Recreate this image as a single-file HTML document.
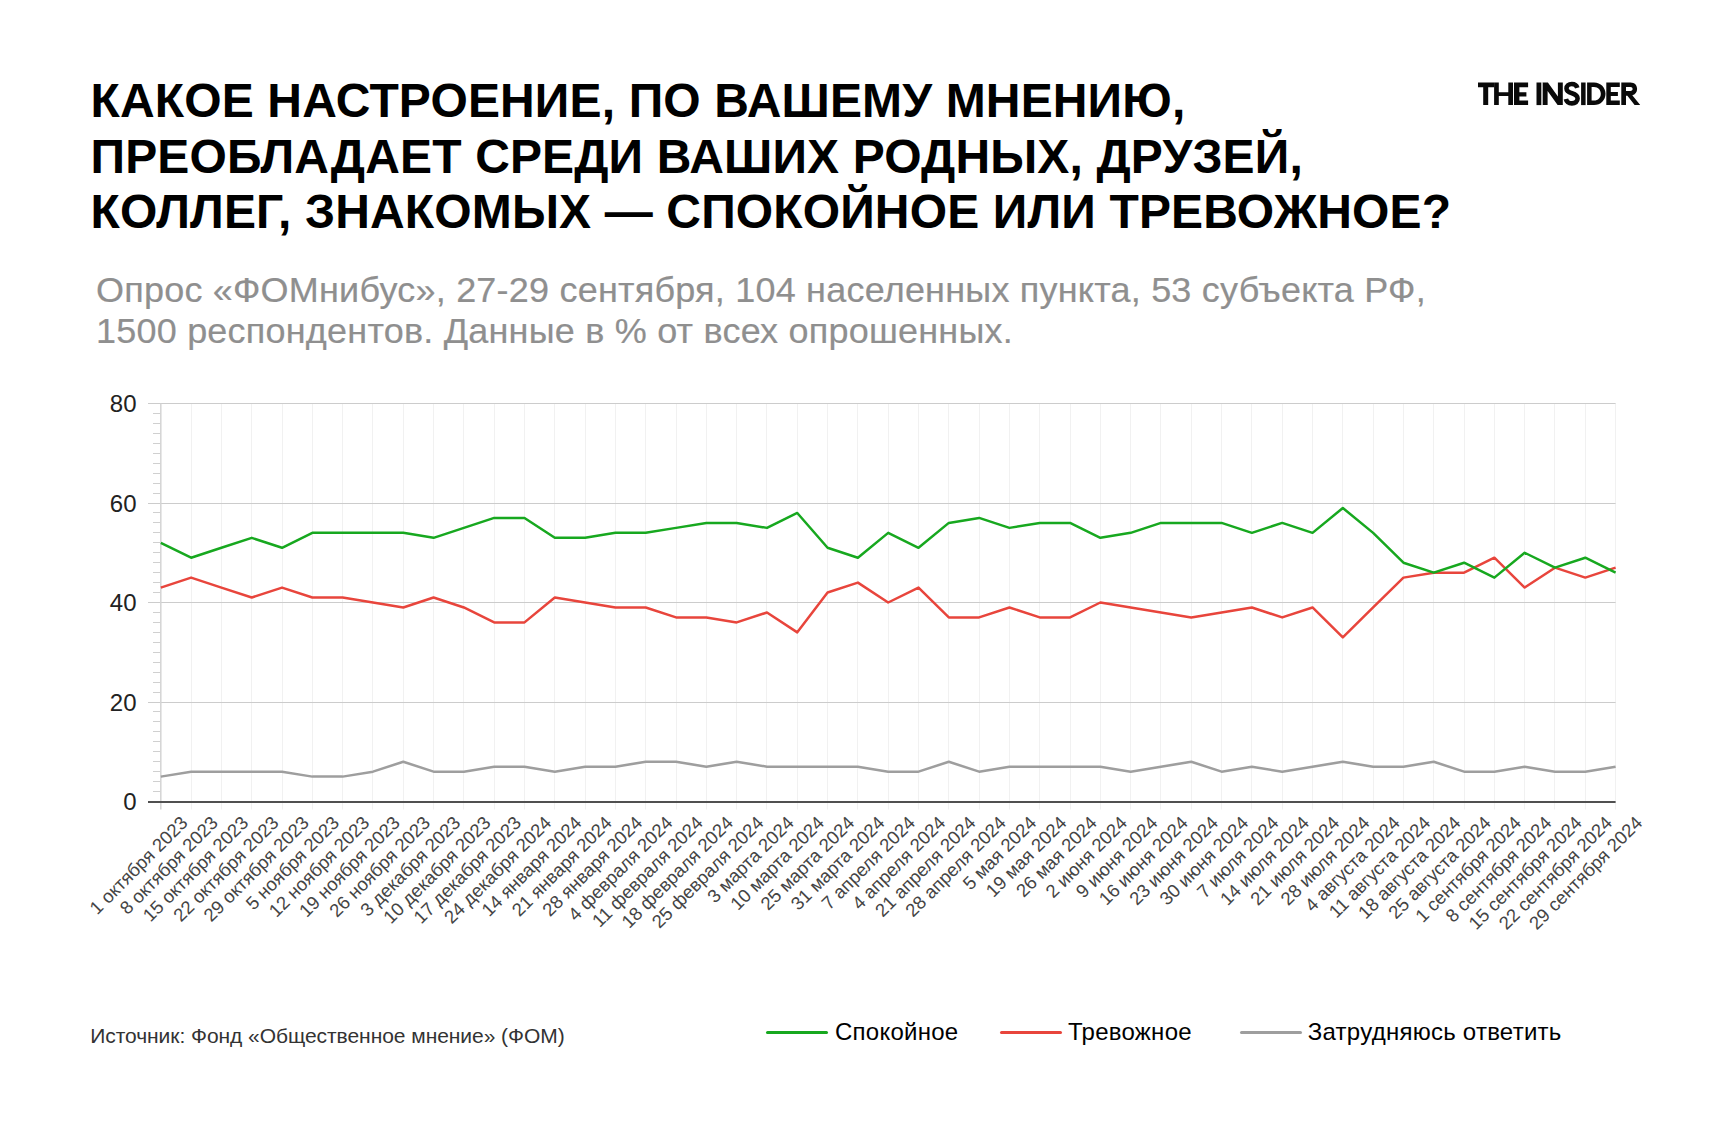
<!DOCTYPE html>
<html><head><meta charset="utf-8">
<style>
html,body{margin:0;padding:0;background:#fff;}
body{width:1732px;height:1126px;position:relative;overflow:hidden;font-family:"Liberation Sans",sans-serif;}
.title{position:absolute;left:90.5px;top:73px;font-weight:bold;font-size:48px;line-height:55.55px;color:#000;white-space:nowrap;letter-spacing:0.15px;}
.sub{position:absolute;left:96px;top:267.86px;font-size:36px;line-height:43.33px;color:#8f8f8f;white-space:nowrap;letter-spacing:0.21px;transform:scaleY(0.96);transform-origin:0 34.14px;-webkit-text-stroke:0.2px #8f8f8f;}
.logo{position:absolute;left:1470px;top:75px;}
.src{position:absolute;left:90.2px;top:1024.9px;font-size:21px;line-height:21px;letter-spacing:-0.05px;color:#333;white-space:nowrap;}
.leg{position:absolute;top:1019.8px;font-size:24px;line-height:24px;letter-spacing:0.25px;color:#000;white-space:nowrap;}
.legl{position:absolute;height:2.5px;top:1031px;border-radius:2px;}
svg text{font-family:"Liberation Sans",sans-serif;}
</style></head><body>
<div class="title">КАКОЕ НАСТРОЕНИЕ, ПО ВАШЕМУ МНЕНИЮ,<br>ПРЕОБЛАДАЕТ СРЕДИ ВАШИХ РОДНЫХ, ДРУЗЕЙ,<br>КОЛЛЕГ, ЗНАКОМЫХ — СПОКОЙНОЕ ИЛИ ТРЕВОЖНОЕ?</div>
<div class="logo"><svg width="180" height="40" viewBox="1470 75 180 40" style="display:block">
<g fill="#0a0a0a">
<path d="M1478,82.5 H1494.1 V87.3 H1488.2 V105.1 H1483.2 V87.3 H1478 Z"/>
<path d="M1494.1,82.5 H1498.8 V92.2 H1508.3 V82.5 H1513 V105.1 H1508.3 V96 H1498.8 V105.1 H1494.1 Z"/>
<path d="M1514,82.5 H1528.1 V87.2 H1519.4 V92.3 H1526.4 V96.5 H1519.4 V100.4 H1528.1 V105.1 H1514 Z"/>
<path d="M1536.5,82.5 H1541 V105.1 H1536.5 Z"/>
<path d="M1542.7,82.4 H1547.9 L1557.9,96.6 V82.4 H1562.8 V105.1 H1557.6 L1547.6,90.9 V105.1 H1542.7 Z"/>
<path d="M1577.3,87.9 C1576.6,85.3 1574.4,84.05 1571.8,84.05 C1568.6,84.05 1566.5,85.9 1566.5,88.5 C1566.5,91.4 1569,92.4 1572,93.3 C1575.3,94.3 1577.6,95.5 1577.6,98.6 C1577.6,101.6 1575.2,103.35 1571.9,103.35 C1568.7,103.35 1566.5,101.7 1565.9,99" fill="none" stroke="#0a0a0a" stroke-width="4.6"/>
<path d="M1581.1,82.5 H1585.6 V105.1 H1581.1 Z"/>
<path fill-rule="evenodd" d="M1587.1,82.5 H1594 C1600.8,82.5 1605.5,87.5 1605.5,93.8 C1605.5,100.1 1600.8,105.1 1594,105.1 H1587.1 Z M1591.6,86.9 H1594 C1598.3,86.9 1600.8,89.8 1600.8,93.8 C1600.8,97.7 1598.3,100.6 1594,100.6 H1591.6 Z"/>
<path d="M1606.3,82.5 H1619.8 V86.9 H1610.8 V91.9 H1617.9 V96 H1610.8 V100.6 H1619.8 V105.1 H1606.3 Z"/>
<path fill-rule="evenodd" d="M1621.3,82.5 H1630.5 C1634.6,82.5 1637.1,85.3 1637.1,89.1 C1637.1,92.3 1635.2,94.6 1632.3,95.3 L1640.2,105.1 H1634.6 L1627.4,95.7 H1626 V105.1 H1621.3 Z M1626,87.1 H1630.4 C1631.9,87.1 1632.6,88 1632.6,89.1 C1632.6,90.2 1631.9,91 1630.4,91 H1626 Z"/>
</g>
<rect x="1541" y="82.5" width="1.7" height="22.6" fill="#b0b0b0"/>
</svg></div>
<div class="sub">Опрос «ФОМнибус», 27-29 сентября, 104 населенных пункта, 53 субъекта РФ,<br>1500 респондентов. Данные в % от всех опрошенных.</div>
<svg style="position:absolute;left:0;top:0" width="1732" height="1126" viewBox="0 0 1732 1126">
<line x1="191.5" y1="403.5" x2="191.5" y2="809.5" stroke="#f1f1f1" stroke-width="1"/>
<line x1="221.5" y1="403.5" x2="221.5" y2="809.5" stroke="#f1f1f1" stroke-width="1"/>
<line x1="251.5" y1="403.5" x2="251.5" y2="809.5" stroke="#f1f1f1" stroke-width="1"/>
<line x1="282.5" y1="403.5" x2="282.5" y2="809.5" stroke="#f1f1f1" stroke-width="1"/>
<line x1="312.5" y1="403.5" x2="312.5" y2="809.5" stroke="#f1f1f1" stroke-width="1"/>
<line x1="342.5" y1="403.5" x2="342.5" y2="809.5" stroke="#f1f1f1" stroke-width="1"/>
<line x1="372.5" y1="403.5" x2="372.5" y2="809.5" stroke="#f1f1f1" stroke-width="1"/>
<line x1="403.5" y1="403.5" x2="403.5" y2="809.5" stroke="#f1f1f1" stroke-width="1"/>
<line x1="433.5" y1="403.5" x2="433.5" y2="809.5" stroke="#f1f1f1" stroke-width="1"/>
<line x1="463.5" y1="403.5" x2="463.5" y2="809.5" stroke="#f1f1f1" stroke-width="1"/>
<line x1="494.5" y1="403.5" x2="494.5" y2="809.5" stroke="#f1f1f1" stroke-width="1"/>
<line x1="524.5" y1="403.5" x2="524.5" y2="809.5" stroke="#f1f1f1" stroke-width="1"/>
<line x1="554.5" y1="403.5" x2="554.5" y2="809.5" stroke="#f1f1f1" stroke-width="1"/>
<line x1="585.5" y1="403.5" x2="585.5" y2="809.5" stroke="#f1f1f1" stroke-width="1"/>
<line x1="615.5" y1="403.5" x2="615.5" y2="809.5" stroke="#f1f1f1" stroke-width="1"/>
<line x1="645.5" y1="403.5" x2="645.5" y2="809.5" stroke="#f1f1f1" stroke-width="1"/>
<line x1="676.5" y1="403.5" x2="676.5" y2="809.5" stroke="#f1f1f1" stroke-width="1"/>
<line x1="706.5" y1="403.5" x2="706.5" y2="809.5" stroke="#f1f1f1" stroke-width="1"/>
<line x1="736.5" y1="403.5" x2="736.5" y2="809.5" stroke="#f1f1f1" stroke-width="1"/>
<line x1="766.5" y1="403.5" x2="766.5" y2="809.5" stroke="#f1f1f1" stroke-width="1"/>
<line x1="797.5" y1="403.5" x2="797.5" y2="809.5" stroke="#f1f1f1" stroke-width="1"/>
<line x1="827.5" y1="403.5" x2="827.5" y2="809.5" stroke="#f1f1f1" stroke-width="1"/>
<line x1="857.5" y1="403.5" x2="857.5" y2="809.5" stroke="#f1f1f1" stroke-width="1"/>
<line x1="888.5" y1="403.5" x2="888.5" y2="809.5" stroke="#f1f1f1" stroke-width="1"/>
<line x1="918.5" y1="403.5" x2="918.5" y2="809.5" stroke="#f1f1f1" stroke-width="1"/>
<line x1="948.5" y1="403.5" x2="948.5" y2="809.5" stroke="#f1f1f1" stroke-width="1"/>
<line x1="979.5" y1="403.5" x2="979.5" y2="809.5" stroke="#f1f1f1" stroke-width="1"/>
<line x1="1009.5" y1="403.5" x2="1009.5" y2="809.5" stroke="#f1f1f1" stroke-width="1"/>
<line x1="1039.5" y1="403.5" x2="1039.5" y2="809.5" stroke="#f1f1f1" stroke-width="1"/>
<line x1="1070.5" y1="403.5" x2="1070.5" y2="809.5" stroke="#f1f1f1" stroke-width="1"/>
<line x1="1100.5" y1="403.5" x2="1100.5" y2="809.5" stroke="#f1f1f1" stroke-width="1"/>
<line x1="1130.5" y1="403.5" x2="1130.5" y2="809.5" stroke="#f1f1f1" stroke-width="1"/>
<line x1="1160.5" y1="403.5" x2="1160.5" y2="809.5" stroke="#f1f1f1" stroke-width="1"/>
<line x1="1191.5" y1="403.5" x2="1191.5" y2="809.5" stroke="#f1f1f1" stroke-width="1"/>
<line x1="1221.5" y1="403.5" x2="1221.5" y2="809.5" stroke="#f1f1f1" stroke-width="1"/>
<line x1="1251.5" y1="403.5" x2="1251.5" y2="809.5" stroke="#f1f1f1" stroke-width="1"/>
<line x1="1282.5" y1="403.5" x2="1282.5" y2="809.5" stroke="#f1f1f1" stroke-width="1"/>
<line x1="1312.5" y1="403.5" x2="1312.5" y2="809.5" stroke="#f1f1f1" stroke-width="1"/>
<line x1="1342.5" y1="403.5" x2="1342.5" y2="809.5" stroke="#f1f1f1" stroke-width="1"/>
<line x1="1373.5" y1="403.5" x2="1373.5" y2="809.5" stroke="#f1f1f1" stroke-width="1"/>
<line x1="1403.5" y1="403.5" x2="1403.5" y2="809.5" stroke="#f1f1f1" stroke-width="1"/>
<line x1="1433.5" y1="403.5" x2="1433.5" y2="809.5" stroke="#f1f1f1" stroke-width="1"/>
<line x1="1464.5" y1="403.5" x2="1464.5" y2="809.5" stroke="#f1f1f1" stroke-width="1"/>
<line x1="1494.5" y1="403.5" x2="1494.5" y2="809.5" stroke="#f1f1f1" stroke-width="1"/>
<line x1="1524.5" y1="403.5" x2="1524.5" y2="809.5" stroke="#f1f1f1" stroke-width="1"/>
<line x1="1554.5" y1="403.5" x2="1554.5" y2="809.5" stroke="#f1f1f1" stroke-width="1"/>
<line x1="1585.5" y1="403.5" x2="1585.5" y2="809.5" stroke="#f1f1f1" stroke-width="1"/>
<line x1="1615.5" y1="403.5" x2="1615.5" y2="809.5" stroke="#f1f1f1" stroke-width="1"/>
<line x1="153" y1="791.5" x2="160.8" y2="791.5" stroke="#d0d0d0" stroke-width="1"/>
<line x1="153" y1="781.5" x2="160.8" y2="781.5" stroke="#d0d0d0" stroke-width="1"/>
<line x1="153" y1="771.5" x2="160.8" y2="771.5" stroke="#d0d0d0" stroke-width="1"/>
<line x1="153" y1="761.5" x2="160.8" y2="761.5" stroke="#d0d0d0" stroke-width="1"/>
<line x1="153" y1="751.5" x2="160.8" y2="751.5" stroke="#d0d0d0" stroke-width="1"/>
<line x1="153" y1="741.5" x2="160.8" y2="741.5" stroke="#d0d0d0" stroke-width="1"/>
<line x1="153" y1="731.5" x2="160.8" y2="731.5" stroke="#d0d0d0" stroke-width="1"/>
<line x1="153" y1="721.5" x2="160.8" y2="721.5" stroke="#d0d0d0" stroke-width="1"/>
<line x1="153" y1="711.5" x2="160.8" y2="711.5" stroke="#d0d0d0" stroke-width="1"/>
<line x1="153" y1="692.5" x2="160.8" y2="692.5" stroke="#d0d0d0" stroke-width="1"/>
<line x1="153" y1="682.5" x2="160.8" y2="682.5" stroke="#d0d0d0" stroke-width="1"/>
<line x1="153" y1="672.5" x2="160.8" y2="672.5" stroke="#d0d0d0" stroke-width="1"/>
<line x1="153" y1="662.5" x2="160.8" y2="662.5" stroke="#d0d0d0" stroke-width="1"/>
<line x1="153" y1="652.5" x2="160.8" y2="652.5" stroke="#d0d0d0" stroke-width="1"/>
<line x1="153" y1="642.5" x2="160.8" y2="642.5" stroke="#d0d0d0" stroke-width="1"/>
<line x1="153" y1="632.5" x2="160.8" y2="632.5" stroke="#d0d0d0" stroke-width="1"/>
<line x1="153" y1="622.5" x2="160.8" y2="622.5" stroke="#d0d0d0" stroke-width="1"/>
<line x1="153" y1="612.5" x2="160.8" y2="612.5" stroke="#d0d0d0" stroke-width="1"/>
<line x1="153" y1="592.5" x2="160.8" y2="592.5" stroke="#d0d0d0" stroke-width="1"/>
<line x1="153" y1="582.5" x2="160.8" y2="582.5" stroke="#d0d0d0" stroke-width="1"/>
<line x1="153" y1="572.5" x2="160.8" y2="572.5" stroke="#d0d0d0" stroke-width="1"/>
<line x1="153" y1="562.5" x2="160.8" y2="562.5" stroke="#d0d0d0" stroke-width="1"/>
<line x1="153" y1="552.5" x2="160.8" y2="552.5" stroke="#d0d0d0" stroke-width="1"/>
<line x1="153" y1="542.5" x2="160.8" y2="542.5" stroke="#d0d0d0" stroke-width="1"/>
<line x1="153" y1="532.5" x2="160.8" y2="532.5" stroke="#d0d0d0" stroke-width="1"/>
<line x1="153" y1="522.5" x2="160.8" y2="522.5" stroke="#d0d0d0" stroke-width="1"/>
<line x1="153" y1="512.5" x2="160.8" y2="512.5" stroke="#d0d0d0" stroke-width="1"/>
<line x1="153" y1="493.5" x2="160.8" y2="493.5" stroke="#d0d0d0" stroke-width="1"/>
<line x1="153" y1="483.5" x2="160.8" y2="483.5" stroke="#d0d0d0" stroke-width="1"/>
<line x1="153" y1="473.5" x2="160.8" y2="473.5" stroke="#d0d0d0" stroke-width="1"/>
<line x1="153" y1="463.5" x2="160.8" y2="463.5" stroke="#d0d0d0" stroke-width="1"/>
<line x1="153" y1="453.5" x2="160.8" y2="453.5" stroke="#d0d0d0" stroke-width="1"/>
<line x1="153" y1="443.5" x2="160.8" y2="443.5" stroke="#d0d0d0" stroke-width="1"/>
<line x1="153" y1="433.5" x2="160.8" y2="433.5" stroke="#d0d0d0" stroke-width="1"/>
<line x1="153" y1="423.5" x2="160.8" y2="423.5" stroke="#d0d0d0" stroke-width="1"/>
<line x1="153" y1="413.5" x2="160.8" y2="413.5" stroke="#d0d0d0" stroke-width="1"/>
<line x1="148" y1="702.5" x2="1615.6" y2="702.5" stroke="#cccccc" stroke-width="1"/>
<line x1="148" y1="602.5" x2="1615.6" y2="602.5" stroke="#cccccc" stroke-width="1"/>
<line x1="148" y1="503.5" x2="1615.6" y2="503.5" stroke="#cccccc" stroke-width="1"/>
<line x1="148" y1="403.5" x2="1615.6" y2="403.5" stroke="#cccccc" stroke-width="1"/>
<line x1="160.8" y1="403.5" x2="160.8" y2="809.5" stroke="#d4d4d4" stroke-width="1.5"/>
<polyline points="160.80,776.62 191.11,771.65 221.42,771.65 251.73,771.65 282.03,771.65 312.34,776.62 342.65,776.62 372.96,771.65 403.27,761.70 433.57,771.65 463.88,771.65 494.19,766.67 524.50,766.67 554.81,771.65 585.12,766.67 615.42,766.67 645.73,761.70 676.04,761.70 706.35,766.67 736.66,761.70 766.97,766.67 797.28,766.67 827.58,766.67 857.89,766.67 888.20,771.65 918.51,771.65 948.82,761.70 979.12,771.65 1009.43,766.67 1039.74,766.67 1070.05,766.67 1100.36,766.67 1130.67,771.65 1160.97,766.67 1191.28,761.70 1221.59,771.65 1251.90,766.67 1282.21,771.65 1312.52,766.67 1342.83,761.70 1373.13,766.67 1403.44,766.67 1433.75,761.70 1464.06,771.65 1494.37,771.65 1524.67,766.67 1554.98,771.65 1585.29,771.65 1615.60,766.67" fill="none" stroke="#9e9e9e" stroke-width="2.5" stroke-linejoin="round"/>
<polyline points="160.80,587.58 191.11,577.62 221.42,587.58 251.73,597.52 282.03,587.58 312.34,597.52 342.65,597.52 372.96,602.50 403.27,607.48 433.57,597.52 463.88,607.48 494.19,622.40 524.50,622.40 554.81,597.52 585.12,602.50 615.42,607.48 645.73,607.48 676.04,617.42 706.35,617.42 736.66,622.40 766.97,612.45 797.28,632.35 827.58,592.55 857.89,582.60 888.20,602.50 918.51,587.58 948.82,617.42 979.12,617.42 1009.43,607.48 1039.74,617.42 1070.05,617.42 1100.36,602.50 1130.67,607.48 1160.97,612.45 1191.28,617.42 1221.59,612.45 1251.90,607.48 1282.21,617.42 1312.52,607.48 1342.83,637.33 1373.13,607.48 1403.44,577.62 1433.75,572.65 1464.06,572.65 1494.37,557.73 1524.67,587.58 1554.98,567.67 1585.29,577.62 1615.60,567.67" fill="none" stroke="#e8453c" stroke-width="2.5" stroke-linejoin="round"/>
<polyline points="160.80,542.80 191.11,557.73 221.42,547.77 251.73,537.83 282.03,547.77 312.34,532.85 342.65,532.85 372.96,532.85 403.27,532.85 433.57,537.83 463.88,527.88 494.19,517.92 524.50,517.92 554.81,537.83 585.12,537.83 615.42,532.85 645.73,532.85 676.04,527.88 706.35,522.90 736.66,522.90 766.97,527.88 797.28,512.95 827.58,547.77 857.89,557.73 888.20,532.85 918.51,547.77 948.82,522.90 979.12,517.92 1009.43,527.88 1039.74,522.90 1070.05,522.90 1100.36,537.83 1130.67,532.85 1160.97,522.90 1191.28,522.90 1221.59,522.90 1251.90,532.85 1282.21,522.90 1312.52,532.85 1342.83,507.98 1373.13,532.85 1403.44,562.70 1433.75,572.65 1464.06,562.70 1494.37,577.62 1524.67,552.75 1554.98,567.67 1585.29,557.73 1615.60,572.65" fill="none" stroke="#17a81f" stroke-width="2.5" stroke-linejoin="round"/>
<line x1="148" y1="802.0" x2="1615.6" y2="802.0" stroke="#505050" stroke-width="2"/>
<text x="136.5" y="810.0" text-anchor="end" font-size="24" fill="#222">0</text>
<text x="136.5" y="710.5" text-anchor="end" font-size="24" fill="#222">20</text>
<text x="136.5" y="611.0" text-anchor="end" font-size="24" fill="#222">40</text>
<text x="136.5" y="511.5" text-anchor="end" font-size="24" fill="#222">60</text>
<text x="136.5" y="412.0" text-anchor="end" font-size="24" fill="#222">80</text>
<text transform="translate(188.80,824.00) rotate(-45)" text-anchor="end" font-size="18.5" fill="#444">1 октября 2023</text>
<text transform="translate(219.11,824.00) rotate(-45)" text-anchor="end" font-size="18.5" fill="#444">8 октября 2023</text>
<text transform="translate(249.42,824.00) rotate(-45)" text-anchor="end" font-size="18.5" fill="#444">15 октября 2023</text>
<text transform="translate(279.73,824.00) rotate(-45)" text-anchor="end" font-size="18.5" fill="#444">22 октября 2023</text>
<text transform="translate(310.03,824.00) rotate(-45)" text-anchor="end" font-size="18.5" fill="#444">29 октября 2023</text>
<text transform="translate(340.34,824.00) rotate(-45)" text-anchor="end" font-size="18.5" fill="#444">5 ноября 2023</text>
<text transform="translate(370.65,824.00) rotate(-45)" text-anchor="end" font-size="18.5" fill="#444">12 ноября 2023</text>
<text transform="translate(400.96,824.00) rotate(-45)" text-anchor="end" font-size="18.5" fill="#444">19 ноября 2023</text>
<text transform="translate(431.27,824.00) rotate(-45)" text-anchor="end" font-size="18.5" fill="#444">26 ноября 2023</text>
<text transform="translate(461.57,824.00) rotate(-45)" text-anchor="end" font-size="18.5" fill="#444">3 декабря 2023</text>
<text transform="translate(491.88,824.00) rotate(-45)" text-anchor="end" font-size="18.5" fill="#444">10 декабря 2023</text>
<text transform="translate(522.19,824.00) rotate(-45)" text-anchor="end" font-size="18.5" fill="#444">17 декабря 2023</text>
<text transform="translate(552.50,824.00) rotate(-45)" text-anchor="end" font-size="18.5" fill="#444">24 декабря 2024</text>
<text transform="translate(582.81,824.00) rotate(-45)" text-anchor="end" font-size="18.5" fill="#444">14 января 2024</text>
<text transform="translate(613.12,824.00) rotate(-45)" text-anchor="end" font-size="18.5" fill="#444">21 января 2024</text>
<text transform="translate(643.42,824.00) rotate(-45)" text-anchor="end" font-size="18.5" fill="#444">28 января 2024</text>
<text transform="translate(673.73,824.00) rotate(-45)" text-anchor="end" font-size="18.5" fill="#444">4 февраля 2024</text>
<text transform="translate(704.04,824.00) rotate(-45)" text-anchor="end" font-size="18.5" fill="#444">11 февраля 2024</text>
<text transform="translate(734.35,824.00) rotate(-45)" text-anchor="end" font-size="18.5" fill="#444">18 февраля 2024</text>
<text transform="translate(764.66,824.00) rotate(-45)" text-anchor="end" font-size="18.5" fill="#444">25 февраля 2024</text>
<text transform="translate(794.97,824.00) rotate(-45)" text-anchor="end" font-size="18.5" fill="#444">3 марта 2024</text>
<text transform="translate(825.28,824.00) rotate(-45)" text-anchor="end" font-size="18.5" fill="#444">10 марта 2024</text>
<text transform="translate(855.58,824.00) rotate(-45)" text-anchor="end" font-size="18.5" fill="#444">25 марта 2024</text>
<text transform="translate(885.89,824.00) rotate(-45)" text-anchor="end" font-size="18.5" fill="#444">31 марта 2024</text>
<text transform="translate(916.20,824.00) rotate(-45)" text-anchor="end" font-size="18.5" fill="#444">7 апреля 2024</text>
<text transform="translate(946.51,824.00) rotate(-45)" text-anchor="end" font-size="18.5" fill="#444">4 апреля 2024</text>
<text transform="translate(976.82,824.00) rotate(-45)" text-anchor="end" font-size="18.5" fill="#444">21 апреля 2024</text>
<text transform="translate(1007.12,824.00) rotate(-45)" text-anchor="end" font-size="18.5" fill="#444">28 апреля 2024</text>
<text transform="translate(1037.43,824.00) rotate(-45)" text-anchor="end" font-size="18.5" fill="#444">5 мая 2024</text>
<text transform="translate(1067.74,824.00) rotate(-45)" text-anchor="end" font-size="18.5" fill="#444">19 мая 2024</text>
<text transform="translate(1098.05,824.00) rotate(-45)" text-anchor="end" font-size="18.5" fill="#444">26 мая 2024</text>
<text transform="translate(1128.36,824.00) rotate(-45)" text-anchor="end" font-size="18.5" fill="#444">2 июня 2024</text>
<text transform="translate(1158.67,824.00) rotate(-45)" text-anchor="end" font-size="18.5" fill="#444">9 июня 2024</text>
<text transform="translate(1188.97,824.00) rotate(-45)" text-anchor="end" font-size="18.5" fill="#444">16 июня 2024</text>
<text transform="translate(1219.28,824.00) rotate(-45)" text-anchor="end" font-size="18.5" fill="#444">23 июня 2024</text>
<text transform="translate(1249.59,824.00) rotate(-45)" text-anchor="end" font-size="18.5" fill="#444">30 июня 2024</text>
<text transform="translate(1279.90,824.00) rotate(-45)" text-anchor="end" font-size="18.5" fill="#444">7 июля 2024</text>
<text transform="translate(1310.21,824.00) rotate(-45)" text-anchor="end" font-size="18.5" fill="#444">14 июля 2024</text>
<text transform="translate(1340.52,824.00) rotate(-45)" text-anchor="end" font-size="18.5" fill="#444">21 июля 2024</text>
<text transform="translate(1370.83,824.00) rotate(-45)" text-anchor="end" font-size="18.5" fill="#444">28 июля 2024</text>
<text transform="translate(1401.13,824.00) rotate(-45)" text-anchor="end" font-size="18.5" fill="#444">4 августа 2024</text>
<text transform="translate(1431.44,824.00) rotate(-45)" text-anchor="end" font-size="18.5" fill="#444">11 августа 2024</text>
<text transform="translate(1461.75,824.00) rotate(-45)" text-anchor="end" font-size="18.5" fill="#444">18 августа 2024</text>
<text transform="translate(1492.06,824.00) rotate(-45)" text-anchor="end" font-size="18.5" fill="#444">25 августа 2024</text>
<text transform="translate(1522.37,824.00) rotate(-45)" text-anchor="end" font-size="18.5" fill="#444">1 сентября 2024</text>
<text transform="translate(1552.67,824.00) rotate(-45)" text-anchor="end" font-size="18.5" fill="#444">8 сентября 2024</text>
<text transform="translate(1582.98,824.00) rotate(-45)" text-anchor="end" font-size="18.5" fill="#444">15 сентября 2024</text>
<text transform="translate(1613.29,824.00) rotate(-45)" text-anchor="end" font-size="18.5" fill="#444">22 сентября 2024</text>
<text transform="translate(1643.60,824.00) rotate(-45)" text-anchor="end" font-size="18.5" fill="#444">29 сентября 2024</text>
</svg>
<div class="src">Источник: Фонд «Общественное мнение» (ФОМ)</div>
<div class="legl" style="left:765.8px;width:62.5px;background:#17a81f"></div>
<div class="leg" style="left:835px">Спокойное</div>
<div class="legl" style="left:999.7px;width:62.5px;background:#e8453c"></div>
<div class="leg" style="left:1068px">Тревожное</div>
<div class="legl" style="left:1239.7px;width:62.5px;background:#9e9e9e"></div>
<div class="leg" style="left:1307.8px">Затрудняюсь ответить</div>
</body></html>
